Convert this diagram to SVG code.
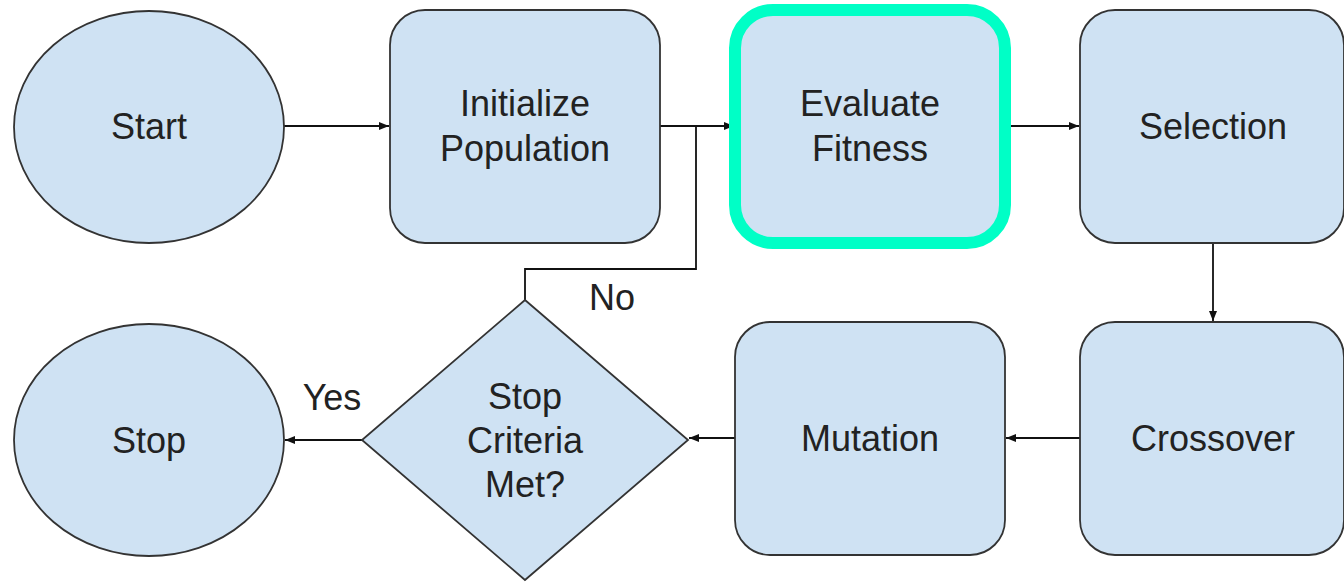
<svg xmlns="http://www.w3.org/2000/svg" width="1344" height="582" viewBox="0 0 1344 582">
<style>
.n{fill:#cfe2f3;stroke:#333;stroke-width:1.8}
.t{font-family:"Liberation Sans",Arial,sans-serif;font-size:36px;fill:#222;text-anchor:middle}
.c{fill:none;stroke:#111;stroke-width:1.8}
</style>
<defs>
<marker id="a" markerWidth="10" markerHeight="8" refX="10" refY="4" orient="auto" markerUnits="userSpaceOnUse">
<path d="M0,0 L10,4 L0,8 Z" fill="#111"/>
</marker>
</defs>
<rect width="1344" height="582" fill="#fff"/>
<g id="connectors">
<path class="c" d="M284,126 H389" marker-end="url(#a)"/>
<path class="c" d="M660,126 H734" marker-end="url(#a)"/>
<path class="c" d="M1005,126 H1079" marker-end="url(#a)"/>
<path class="c" d="M1213,243 V321" marker-end="url(#a)"/>
<path class="c" d="M1080,438 H1006" marker-end="url(#a)"/>
<path class="c" d="M735,438 H689" marker-end="url(#a)"/>
<path class="c" d="M362,440 H285" marker-end="url(#a)"/>
<path class="c" d="M525,300 V269 H696 V126"/>
<text class="t" x="332" y="410">Yes</text>
<text class="t" x="612" y="310">No</text>
</g>
<g id="start">
<ellipse class="n" cx="149" cy="127" rx="135" ry="116"/>
<text class="t" x="149" y="139">Start</text>
</g>
<g id="init">
<rect class="n" x="390" y="10" width="270" height="233" rx="35"/>
<text class="t" x="525" y="116">Initialize</text>
<text class="t" x="525" y="161">Population</text>
</g>
<g id="evaluate">
<rect x="735" y="10" width="270" height="233" rx="38" fill="#cfe2f3" stroke="#00ffc6" stroke-width="12"/>
<text class="t" x="870" y="116">Evaluate</text>
<text class="t" x="870" y="161">Fitness</text>
</g>
<g id="selection">
<rect class="n" x="1080" y="10" width="264" height="233" rx="35"/>
<text class="t" x="1213" y="139">Selection</text>
</g>
<g id="crossover">
<rect class="n" x="1080" y="322" width="264" height="233" rx="35"/>
<text class="t" x="1213" y="451">Crossover</text>
</g>
<g id="mutation">
<rect class="n" x="735" y="322" width="270" height="233" rx="35"/>
<text class="t" x="870" y="451">Mutation</text>
</g>
<g id="decision">
<polygon class="n" points="525,300 688,440 525,580 362,440"/>
<text class="t" x="525" y="409">Stop</text>
<text class="t" x="525" y="453">Criteria</text>
<text class="t" x="525" y="497">Met?</text>
</g>
<g id="stop">
<ellipse class="n" cx="149" cy="440" rx="135" ry="116"/>
<text class="t" x="149" y="453">Stop</text>
</g>
</svg>
